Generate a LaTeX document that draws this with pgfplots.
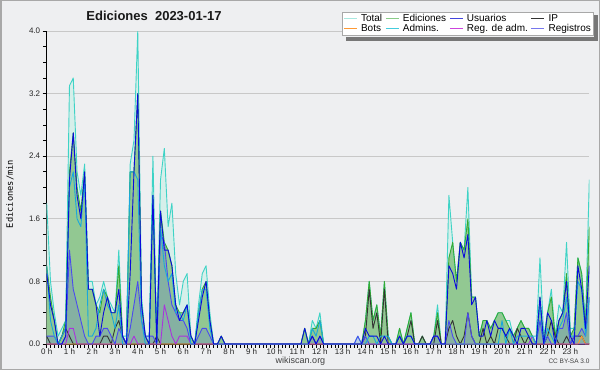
\documentclass[border=0pt]{standalone}
\usepackage{pgfplots}
\pgfplotsset{compat=1.18}
\usepackage{pgfplotstable}
\usepackage{fontspec}
\setmainfont{Liberation Sans}
\newfontfamily\monofont{DejaVu Sans Mono}

\definecolor{bg}{HTML}{EEEFF1}
\definecolor{framec}{HTML}{A8A8A8}
\definecolor{gridc}{HTML}{C8C8C8}
\definecolor{cTotal}{HTML}{3ED3C6}
\definecolor{cTotalFill}{HTML}{D6EFEA}
\definecolor{cEd}{HTML}{33AA33}
\definecolor{cEdFill}{HTML}{92C892}
\definecolor{cUs}{HTML}{0A0ADC}
\definecolor{cIP}{HTML}{333333}
\definecolor{cBots}{HTML}{FF9933}
\definecolor{cAdm}{HTML}{19A8DC}
\definecolor{cRA}{HTML}{AA33DD}
\definecolor{cReg}{HTML}{4A4AF0}
\definecolor{lTotal}{HTML}{A8E8E0}
\definecolor{lEd}{HTML}{88CC88}
\definecolor{lUs}{HTML}{4444DD}
\definecolor{lIP}{HTML}{333333}
\definecolor{lBots}{HTML}{FF9933}
\definecolor{lAdm}{HTML}{44CCDD}
\definecolor{lRA}{HTML}{CC44DD}
\definecolor{lReg}{HTML}{7777EE}
\definecolor{shadowc}{HTML}{777777}

\pgfplotstableread{
i T E U IP A R RA B
0 1.8 1.0 0.9 0.1 1.0 0.1 0 0
1 0.8 0.6 0.5 0.0 0.3 0.1 0 0
2 0.4 0.3 0.3 0.0 0.1 0.1 0 0
3 0.1 0.0 0.0 0.0 0.0 0.0 0 0
4 0.2 0.1 0.0 0.1 0.1 0.0 0 0
5 0.3 0.3 0.1 0.2 0.2 0.1 0 0
6 3.3 2.2 2.1 0.1 2.0 1.2 0.2 0
7 3.4 2.7 2.7 0.0 2.2 0.7 0.2 0
8 2.2 2.0 1.9 0.0 1.6 0.5 0 0
9 1.9 1.7 1.6 0.0 1.5 0.3 0 0
10 2.3 2.2 2.2 0.0 2.1 0.1 0 0
11 0.8 0.7 0.7 0.0 0.1 0.0 0 0
12 0.8 0.7 0.7 0.0 0.1 0.0 0 0
13 0.5 0.5 0.5 0.0 0.2 0.1 0 0
14 0.6 0.4 0.1 0.0 0.5 0.1 0 0
15 0.8 0.7 0.4 0.1 0.7 0.2 0 0
16 0.6 0.6 0.6 0.1 0.5 0.2 0 0
17 0.5 0.4 0.4 0.0 0.4 0.1 0 0
18 0.4 0.4 0.4 0.2 0.2 0.0 0 0
19 1.2 1.0 0.7 0.3 0.5 0.2 0 0
20 0.1 0.1 0.1 0.1 0.0 0.1 0 0
21 0.1 0.0 0.0 0.0 0.0 0.0 0 0
22 2.3 2.2 0.9 0.0 2.2 0.2 0 0
23 2.6 2.2 2.2 0.0 2.2 0.5 0.1 0
24 4.0 3.2 3.2 0.0 2.1 0.8 0 0
25 0.6 0.5 0.5 0.0 0.3 0.3 0 0
26 0.1 0.1 0.1 0.0 0.0 0.1 0 0
27 0.1 0.0 0.0 0.0 0.0 0.1 0 0
28 2.4 1.9 1.9 0.0 1.9 0.1 0 0
29 0.1 0.1 0.0 0.1 0.0 0.0 0 0
30 2.1 1.7 1.7 0.0 1.5 1.4 0 0
31 2.5 1.3 1.2 0.0 1.0 1.3 0.5 0
32 1.5 1.2 1.2 0.0 0.8 0.8 0.3 0
33 1.8 1.0 1.0 0.0 0.9 0.5 0.1 0
34 0.9 0.5 0.5 0.0 0.4 0.4 0 0
35 0.5 0.4 0.3 0.0 0.4 0.3 0.1 0
36 0.8 0.4 0.4 0.0 0.3 0.3 0.1 0
37 0.9 0.5 0.5 0.0 0.5 0.2 0.1 0
38 0.1 0.1 0.1 0.0 0.0 0.0 0 0
39 0 0 0 0 0 0 0 0
40 0.5 0.4 0.3 0.0 0.4 0.1 0 0
41 0.9 0.7 0.6 0.0 0.7 0.2 0 0
42 1.0 0.8 0.8 0.0 0.7 0.2 0 0
43 0.4 0.3 0.3 0.0 0.2 0.1 0 0
44 0 0 0 0 0 0 0 0
45 0 0 0 0 0 0 0 0
46 0.1 0.1 0.1 0 0 0 0 0
47 0 0 0 0 0 0 0 0
48 0 0 0 0 0 0 0 0
49 0 0 0 0 0 0 0 0
50 0 0 0 0 0 0 0 0
51 0 0 0 0 0 0 0 0
52 0 0 0 0 0 0 0 0
53 0 0 0 0 0 0 0 0
54 0 0 0 0 0 0 0 0
55 0 0 0 0 0 0 0 0
56 0 0 0 0 0 0 0 0
57 0 0 0 0 0 0 0 0
58 0 0 0 0 0 0 0 0
59 0 0 0 0 0 0 0 0
60 0 0 0 0 0 0 0 0
61 0 0 0 0 0 0 0 0
62 0 0 0 0 0 0 0 0
63 0 0 0 0 0 0 0 0
64 0 0 0 0 0 0 0 0
65 0 0 0 0 0 0 0 0
66 0 0 0 0 0 0 0 0
67 0 0 0 0 0 0 0 0
68 0.2 0.2 0.2 0 0 0 0 0
69 0 0 0 0 0 0 0 0
70 0.3 0.2 0.1 0.1 0.2 0.1 0 0
71 0.2 0.2 0.0 0.0 0.1 0.0 0 0
72 0.4 0.3 0.1 0.0 0.3 0.1 0 0
73 0 0 0 0 0 0 0 0
74 0 0 0 0 0 0 0 0
75 0 0 0 0 0 0 0 0
76 0 0 0 0 0 0 0 0
77 0 0 0 0 0 0 0 0
78 0 0 0 0 0 0 0 0
79 0 0 0 0 0 0 0 0
80 0 0 0 0 0 0 0 0
81 0 0 0 0 0 0 0 0
82 0.1 0 0 0 0 0.1 0 0
83 0 0 0 0 0 0 0 0
84 0.3 0.3 0.2 0.1 0.0 0.1 0 0
85 0.8 0.8 0.1 0.7 0.1 0.0 0 0
86 0.3 0.3 0.1 0.2 0.1 0.0 0 0
87 0.5 0.5 0.1 0.4 0.0 0.0 0 0
88 0.1 0.1 0.0 0.0 0.1 0.0 0 0
89 0.8 0.8 0.1 0.7 0.1 0.0 0 0
90 0.1 0.1 0.0 0.0 0.1 0.0 0 0
91 0 0 0 0 0 0 0 0
92 0 0 0 0 0 0 0 0
93 0.2 0.2 0.1 0.1 0.1 0 0 0
94 0 0 0 0 0 0 0 0
95 0.2 0.2 0.1 0.1 0.1 0 0 0
96 0.4 0.4 0.1 0.3 0.1 0 0 0
97 0 0 0 0 0 0 0 0
98 0 0 0 0 0 0 0 0
99 0.1 0.1 0.0 0.1 0 0 0 0
100 0 0 0 0 0 0 0 0
101 0 0 0 0 0 0 0 0
102 0.1 0.1 0.1 0.0 0 0.1 0 0
103 0.5 0.4 0.1 0.3 0.0 0.1 0 0
104 0 0 0 0 0 0 0 0
105 0 0 0 0 0 0 0 0
106 1.9 1.1 1.0 0.2 0.0 0.3 0 0
107 1.3 1.3 0.9 0.3 0.0 0.1 0 0
108 0.8 0.8 0.7 0.1 0 0 0 0
109 1.3 1.3 1.3 0.0 0 0 0 0
110 1.2 1.2 1.1 0.1 0 0 0 0
111 2.0 1.6 1.4 0.4 0 0.4 0 0
112 0.6 0.6 0.5 0.1 0 0.1 0 0
113 0.6 0.6 0.6 0.0 0 0 0 0
114 0.1 0.1 0.1 0.0 0 0 0 0
115 0.3 0.3 0.1 0.2 0 0 0 0
116 0.3 0.3 0.3 0.0 0 0 0 0
117 0.2 0.2 0.1 0.1 0 0 0 0
118 0.3 0.3 0.3 0.0 0 0 0 0
119 0.4 0.4 0.2 0.2 0 0 0 0
120 0.4 0.4 0.2 0.2 0.3 0 0 0
121 0.3 0.3 0.1 0.1 0.0 0 0 0
122 0.3 0.2 0.2 0.0 0.2 0 0 0
123 0.1 0.1 0.1 0.0 0.0 0 0 0
124 0.2 0.2 0.0 0.2 0.1 0 0 0
125 0.3 0.3 0.2 0.1 0.1 0 0 0
126 0.2 0.2 0.2 0.0 0.1 0 0 0
127 0.2 0.2 0.1 0.1 0.1 0 0 0
128 0.1 0.1 0.0 0.0 0.1 0 0.1 0
129 0.1 0.0 0.0 0.0 0.0 0 0 0
130 1.1 0.6 0.6 0.0 0.5 0.3 0 0
131 0.1 0.0 0.0 0.0 0.0 0 0 0
132 0.4 0.4 0.4 0.1 0.2 0.1 0 0
133 0.7 0.6 0.3 0.3 0.1 0 0 0
134 0.1 0.1 0.0 0.1 0.0 0 0 0
135 0.5 0.3 0.3 0.0 0.2 0.2 0 0
136 0.4 0.4 0.4 0.0 0.3 0.2 0 0
137 1.3 0.9 0.8 0.1 0.6 0.4 0 0
138 0.2 0.1 0.1 0.0 0.1 0 0 0
139 0.2 0.2 0.0 0.1 0.1 0.1 0 0
140 1.1 1.1 1.0 0.1 0.8 0.1 0 0
141 0.9 0.9 0.7 0.1 0.7 0.2 0 0.1
142 0.3 0.2 0.2 0.0 0.1 0.1 0 0
143 2.1 1.5 1.0 0.0 0.6 0.6 0 0
}\data

\begin{document}
\begin{tikzpicture}[x=1pt,y=1pt]
\fill[bg] (0,0) rectangle (600,370);
\draw[framec, line width=1.5pt] (0.75,0.75) rectangle (599.25,369.25);
\begin{axis}[
  at={(46.7pt,26pt)}, anchor=south west,
  scale only axis, width=542.6pt, height=313pt,
  xmin=0, xmax=143, ymin=0, ymax=4,
  axis x line*=bottom, axis y line*=left,
  x axis line style={black, line width=1.8pt, -},
  y axis line style={black, line width=1pt, -},
  xtick={0,6,...,138},
  xticklabels={0 h,1 h,2 h,3 h,4 h,5 h,6 h,7 h,8 h,9 h,10 h,11 h,12 h,13 h,14 h,15 h,16 h,17 h,18 h,19 h,20 h,21 h,22 h,23 h},
  minor x tick num=5,
  ytick={0,0.8,1.6,2.4,3.2,4.0},
  minor y tick num=3,
  tick align=outside,
  major tick length=4pt, minor tick length=3.5pt,
  tick style={black, line width=0.8pt},
  ymajorgrids, grid style={gridc, line width=0.8pt},
  /pgf/number format/fixed,
  /pgf/number format/fixed zerofill,
  /pgf/number format/precision=1,
  /pgf/number format/assume math mode=true,
  ticklabel style={font=\fontsize{8}{9}\selectfont, text=black!85},
  yticklabel style={xshift=1pt},
  xticklabel style={inner sep=1pt},
  axis background/.style={fill=bg},
  legend columns=4,
  legend cell align=left,
  legend image code/.code={\draw[#1] (0pt,0pt) -- (13pt,0pt);},
  legend style={at={(1.0074,1.0607)}, anchor=north east, fill=white, draw=framec, line width=0.8pt,
    font=\fontsize{10}{11}\selectfont, inner sep=1.5pt, row sep=0pt,
    nodes={inner sep=0.6pt, text depth=1.5pt},
    /tikz/every odd column/.append style={column sep=3pt},
    /tikz/every even column/.append style={column sep=2.5pt}},
]
\addlegendimage{lTotal, line width=1pt}\addlegendentry{Total}
\addlegendimage{lEd, line width=1pt}\addlegendentry{Ediciones}
\addlegendimage{lUs, line width=1pt}\addlegendentry{Usuarios}
\addlegendimage{lIP, line width=1pt}\addlegendentry{IP}
\addlegendimage{lBots, line width=1pt}\addlegendentry{Bots}
\addlegendimage{lAdm, line width=1pt}\addlegendentry{Admins.}
\addlegendimage{lRA, line width=1pt}\addlegendentry{Reg. de adm.}
\addlegendimage{lReg, line width=1pt}\addlegendentry{Registros}

\addplot[forget plot, fill=cTotalFill, draw=none] table[x=i, y=T]{\data} \closedcycle;
\addplot[forget plot, fill=cEdFill, draw=none] table[x=i, y=E]{\data} \closedcycle;
\addplot[forget plot, fill=cReg, fill opacity=0.18, draw=none] table[x=i, y=R]{\data} \closedcycle;
\addplot[forget plot, cTotal, line width=0.9pt, line join=round] table[x=i, y=T]{\data};
\addplot[forget plot, cEd, line width=0.9pt, line join=round] table[x=i, y=E]{\data};
\addplot[forget plot, cIP, line width=0.9pt, line join=round] table[x=i, y=IP]{\data};
\addplot[forget plot, cBots, line width=0.9pt, line join=round] table[x=i, y=B]{\data};
\addplot[forget plot, cRA, line width=0.9pt, line join=round] table[x=i, y=RA]{\data};
\addplot[forget plot, cReg, line width=0.9pt, line join=round] table[x=i, y=R]{\data};
\addplot[forget plot, cAdm, line width=0.9pt, line join=round] table[x=i, y=A]{\data};
\addplot[forget plot, cUs, line width=0.9pt, line join=round] table[x=i, y=U]{\data};
\end{axis}
\fill[shadowc] (594.4pt,329pt) rectangle (598pt,354.5pt);
\fill[shadowc] (346pt,329pt) rectangle (598pt,332.5pt);
\node[font=\bfseries\fontsize{13}{15}\selectfont, text=black!90] at (154,354) {Ediciones\ \ 2023-01-17};
\node[font=\monofont\fontsize{8.7}{10}\selectfont, rotate=90] at (10,176) {Ediciones/min};
\node[font=\fontsize{9}{10}\selectfont, text=black!75] at (300.5,8.5) {wikiscan.org};
\node[font=\fontsize{6.5}{7}\selectfont, text=black!75] at (569,8.5) {CC BY-SA 3.0};
\end{tikzpicture}
\end{document}
